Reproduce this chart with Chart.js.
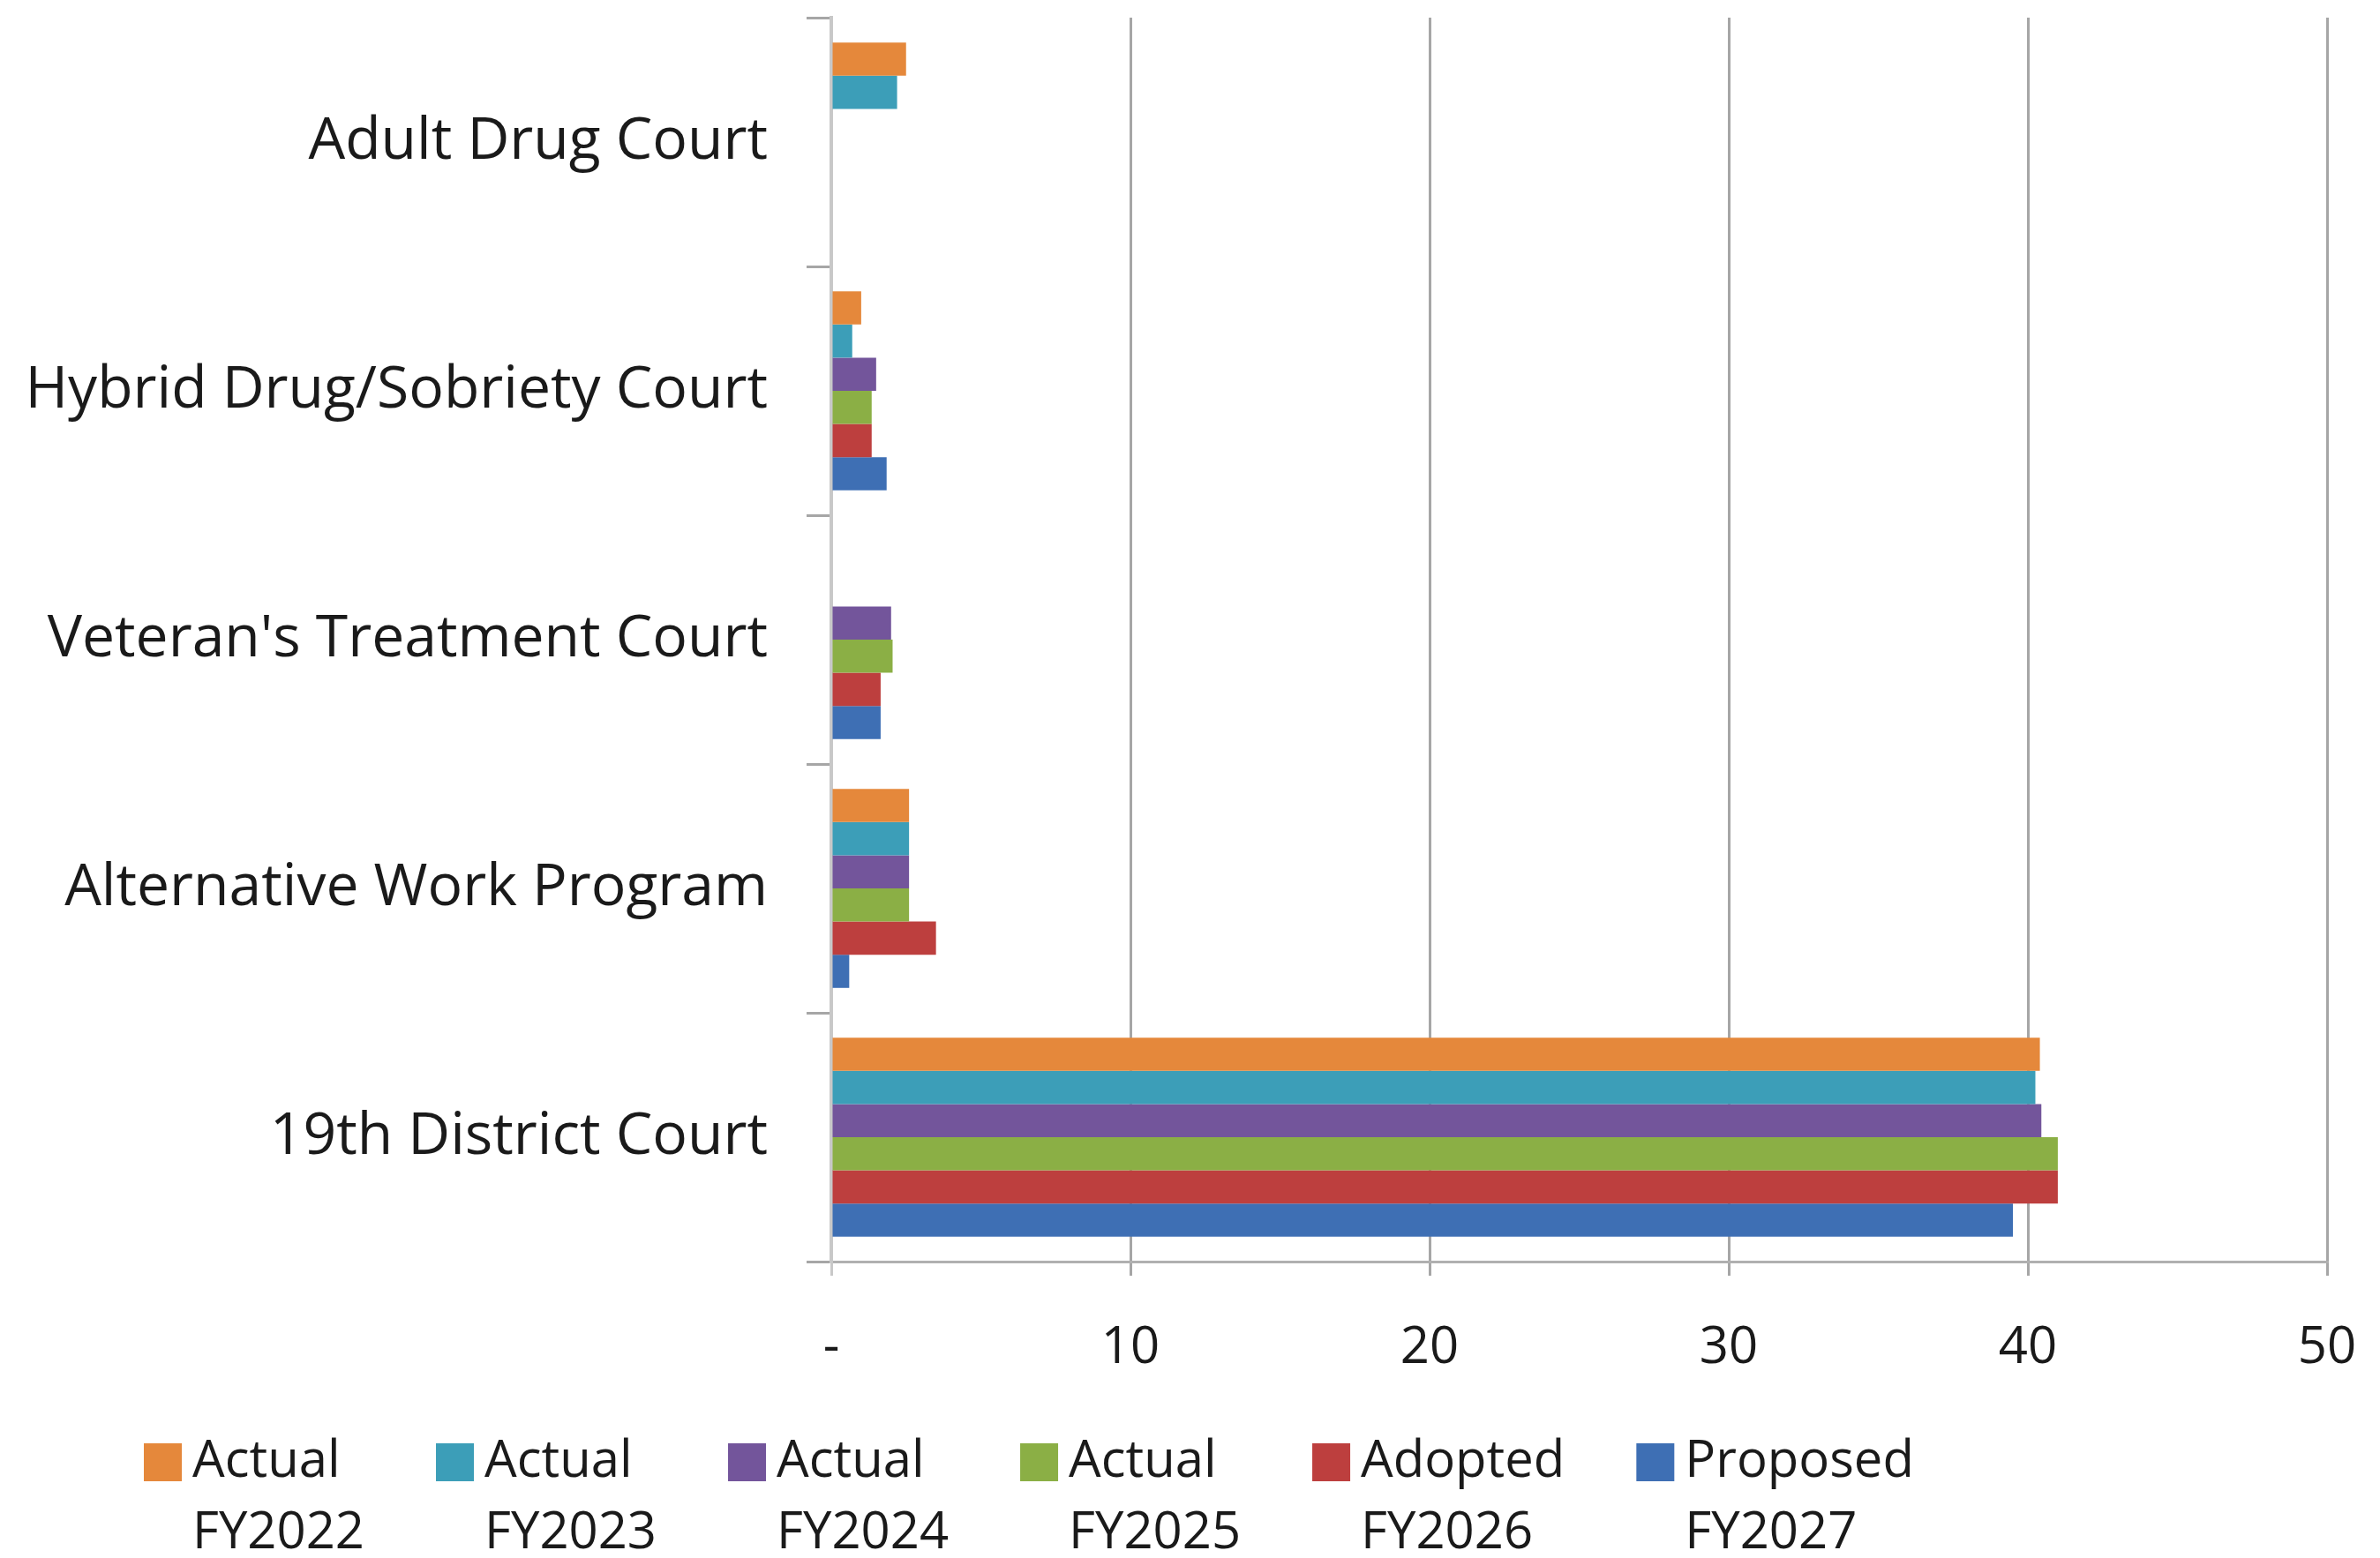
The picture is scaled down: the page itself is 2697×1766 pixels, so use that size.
<!DOCTYPE html>
<html>
<head>
<meta charset="utf-8">
<script src="https://cdn.jsdelivr.net/npm/chart.js@4"></script>
<style>
  html, body { margin: 0; padding: 0; background: #fff; }
  #wrap { width: 2697px; height: 1766px; }
</style>
</head>
<body>
<div id="wrap"><canvas id="grafico"></canvas></div>
<script>
// categorias (de cima para baixo)
const categorias = ['Adult Drug Court', 'Hybrid Drug/Sobriety Court', "Veteran's Treatment Court", 'Alternative Work Program', '19th District Court']

// valores, um array por série
const actualFY2022 = [2.5, 1.0, null, 2.6, 40.4]
const actualFY2023 = [2.2, 0.7, null, 2.6, 40.25]
const actualFY2024 = [null, 1.5, 2.0, 2.6, 40.45]
const actualFY2025 = [null, 1.35, 2.05, 2.6, 41.0]
const adoptedFY2026 = [null, 1.35, 1.65, 3.5, 41.0]
const proposedFY2027 = [null, 1.85, 1.65, 0.6, 39.5]

const legendas = [['Actual', 'FY2022'], ['Actual', 'FY2023'], ['Actual', 'FY2024'], ['Actual', 'FY2025'], ['Adopted', 'FY2026'], ['Proposed', 'FY2027']]
const cores = ['#E5883B', '#3C9EB8', '#73559B', '#8BAF45', '#BD3F3E', '#3E6FB4']

const eixoX = { min: 0, max: 50, passo: 10 }

const fonte = "'Open Sans', sans-serif"
const corTexto = '#1a1a1a'

// legenda desenhada à mão, com duas linhas por item
const legendaDuasLinhas = {
  id: 'legendaDuasLinhas',
  afterDraw(chart) {
    const ctx = chart.ctx
    ctx.save()
    ctx.font = '58px ' + fonte
    ctx.textBaseline = 'middle'
    ctx.textAlign = 'left'
    let x = 163
    const y1 = 1657
    const y2 = 1738
    chart.data.datasets.forEach((ds) => {
      ctx.fillStyle = ds.backgroundColor
      ctx.fillRect(x, y1 - 21, 43, 43)
      ctx.fillStyle = corTexto
      ctx.fillText(ds.label[0], x + 55, y1)
      ctx.fillText(ds.label[1], x + 55, y2)
      const larg = Math.max(ctx.measureText(ds.label[0]).width, ctx.measureText(ds.label[1]).width)
      x += 55 + larg + 81
    })
    ctx.restore()
  }
}

const series = [actualFY2022, actualFY2023, actualFY2024, actualFY2025, adoptedFY2026, proposedFY2027]

const grafico = new Chart(document.getElementById('grafico'), {
  type: 'bar',
  data: {
    labels: categorias,
    datasets: series.map((dados, i) => ({
      label: legendas[i],
      data: dados,
      backgroundColor: cores[i],
      borderWidth: 0,
      categoryPercentage: 0.8,
      barPercentage: 1.0
    }))
  },
  options: {
    indexAxis: 'y',
    responsive: true,
    maintainAspectRatio: false,
    animation: false,
    layout: { padding: { top: 20, right: 60, bottom: 186, left: 0 } },
    plugins: {
      legend: { display: false },
      tooltip: { enabled: false }
    },
    scales: {
      x: {
        min: eixoX.min,
        max: eixoX.max,
        afterFit: (s) => { s.height = 150; s.paddingLeft = 0; s.paddingRight = 0 },
        ticks: {
          stepSize: eixoX.passo,
          color: corTexto,
          padding: 48,
          font: { family: fonte, size: 58 },
          callback: (v) => v === 0 ? '-' : v
        },
        grid: {
          color: (c) => c.tick && c.tick.value === 0 ? '#C8C8C8' : '#A6A6A6',
          lineWidth: 3,
          tickLength: 16,
          drawTicks: true
        },
        border: { color: '#B0B0B0', width: 3 }
      },
      y: {
        afterFit: (s) => { s.width = 942; s.paddingTop = 0; s.paddingBottom = 0 },
        ticks: {
          color: corTexto,
          padding: 44,
          font: { family: fonte, size: 66 }
        },
        grid: {
          offset: true,
          drawOnChartArea: false,
          tickLength: 28,
          tickColor: '#A6A6A6',
          lineWidth: 3
        },
        border: { color: '#C8C8C8', width: 4 }
      }
    }
  },
  plugins: [legendaDuasLinhas]
})
</script>
</body>
</html>
